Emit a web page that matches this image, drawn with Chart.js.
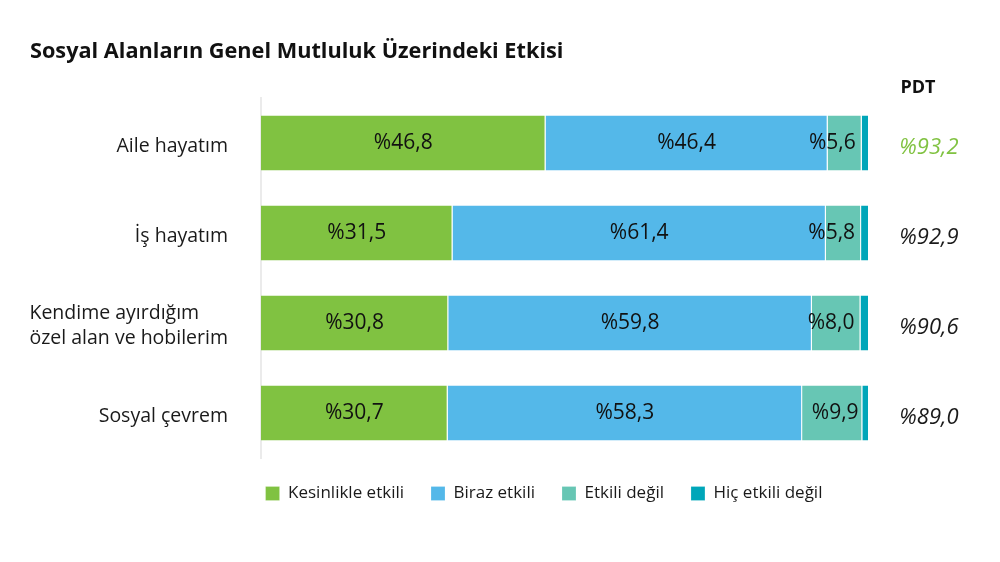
<!DOCTYPE html>
<html lang="tr">

<head>
    <meta charset="UTF-8">
    <title>Sosyal Alanların Genel Mutluluk Üzerindeki Etkisi</title>
    <script src="https://cdn.jsdelivr.net/npm/chart.js"></script>
    <style>
        body {
            margin: 0;
            background: #ffffff;
        }

        .chart-box {
            width: 1000px;
            height: 562px;
        }
    </style>
</head>

<body>
    <div class="chart-box">
        <canvas id="mutlulukChart"></canvas>
    </div>
    <script>
        // Veriler
        const title = 'Sosyal Alanların Genel Mutluluk Üzerindeki Etkisi';
        const categories = [
            ['Aile hayatım'],
            ['İş hayatım'],
            ['Kendime ayırdığım', 'özel alan ve hobilerim'],
            ['Sosyal çevrem']
        ];
        const seriesNames = ['Kesinlikle etkili', 'Biraz etkili', 'Etkili değil', 'Hiç etkili değil'];
        const kesinlikleEtkili = [46.8, 31.5, 30.8, 30.7];
        const birazEtkili = [46.4, 61.4, 59.8, 58.3];
        const etkiliDegil = [5.6, 5.8, 8.0, 9.9];
        const hicEtkiliDegil = [1.2, 1.3, 1.4, 1.1];
        const pdtHeader = 'PDT';
        const pdtValues = [93.2, 92.9, 90.6, 89.0];
        const seriesColors = ['#80c241', '#54b8e9', '#67c6b4', '#00a6b9'];

        const fontFamily = '"Open Sans", "DejaVu Sans", sans-serif';
        const fmt = v => '%' + v.toFixed(1).replace('.', ',');

        // Etiketleri, başlığı ve PDT sütununu çizen eklenti
        const labelPlugin = {
            id: 'labelPlugin',
            afterDatasetsDraw(chart) {
                const ctx = chart.ctx;
                const yScale = chart.scales.y;
                ctx.save();

                // başlık
                ctx.font = 'bold 21.7px ' + fontFamily;
                ctx.fillStyle = '#111111';
                ctx.textAlign = 'left';
                ctx.textBaseline = 'middle';
                ctx.fillText(title, 30, 52);

                // kategori etiketleri (sağa dayalı blok, satırlar sola hizalı)
                ctx.font = '19.5px ' + fontFamily;
                ctx.fillStyle = '#1a1a1a';
                categories.forEach((lines, i) => {
                    const cy = yScale.getPixelForValue(i);
                    const maxW = Math.max(...lines.map(l => ctx.measureText(l).width));
                    const lx = 228 - maxW;
                    const lh = 25;
                    lines.forEach((line, j) => {
                        ctx.fillText(line, lx, cy + (j - (lines.length - 1) / 2) * lh + 3);
                    });
                });

                // çubuk içi değerler
                ctx.font = '21px ' + fontFamily;
                ctx.fillStyle = '#111111';
                ctx.textBaseline = 'middle';
                chart.data.datasets.forEach((ds, di) => {
                    if (di > 2) return;
                    const meta = chart.getDatasetMeta(di);
                    meta.data.forEach((bar, i) => {
                        const p = bar.getProps(['x', 'y', 'base'], true);
                        const left = Math.min(p.x, p.base);
                        const right = Math.max(p.x, p.base);
                        const text = fmt(ds.data[i]);
                        const w = ctx.measureText(text).width;
                        if (di === 2) {
                            if (w > right - left - 10) {
                                ctx.textAlign = 'right';
                                ctx.fillText(text, right - 6, p.y);
                            } else {
                                ctx.textAlign = 'center';
                                ctx.fillText(text, (left + right) / 2 + 3, p.y);
                            }
                        } else {
                            ctx.textAlign = 'center';
                            ctx.fillText(text, (left + right) / 2, p.y);
                        }
                    });
                });

                // PDT sütunu
                ctx.textAlign = 'center';
                ctx.font = 'bold 18px ' + fontFamily;
                ctx.fillStyle = '#111111';
                ctx.fillText(pdtHeader, 918, 88);
                ctx.font = 'italic 22px ' + fontFamily;
                pdtValues.forEach((v, i) => {
                    ctx.fillStyle = i === 0 ? seriesColors[0] : '#1a1a1a';
                    ctx.fillText(fmt(v), 929, yScale.getPixelForValue(i) + 5);
                });

                ctx.restore();
            }
        };

        const seriesData = [kesinlikleEtkili, birazEtkili, etkiliDegil, hicEtkiliDegil];

        new Chart(document.getElementById('mutlulukChart'), {
            type: 'bar',
            data: {
                labels: categories.map(c => c.join(' ')),
                datasets: seriesNames.map((name, i) => ({
                    label: name,
                    data: seriesData[i],
                    backgroundColor: seriesColors[i],
                    borderColor: 'rgba(255,255,255,0.8)',
                    borderWidth: { right: 1 },
                    borderSkipped: false,
                    categoryPercentage: 1,
                    barPercentage: 0.61
                }))
            },
            options: {
                indexAxis: 'y',
                responsive: true,
                maintainAspectRatio: false,
                animation: false,
                layout: {
                    padding: { left: 219, right: 131, top: 98, bottom: 50 }
                },
                scales: {
                    x: {
                        stacked: true,
                        min: 0,
                        max: 100,
                        display: false
                    },
                    y: {
                        stacked: true,
                        grid: { display: false, drawTicks: false },
                        border: { display: true, color: '#ebebeb', width: 2 },
                        ticks: { display: false },
                        afterFit(scale) {
                            scale.width = 42;
                        }
                    }
                },
                plugins: {
                    legend: {
                        position: 'bottom',
                        labels: {
                            boxWidth: 14,
                            boxHeight: 14,
                            padding: 27,
                            color: '#1a1a1a',
                            font: { family: fontFamily, size: 17 }
                        }
                    },
                    tooltip: { enabled: false }
                }
            },
            plugins: [labelPlugin]
        });
    </script>
</body>

</html>
